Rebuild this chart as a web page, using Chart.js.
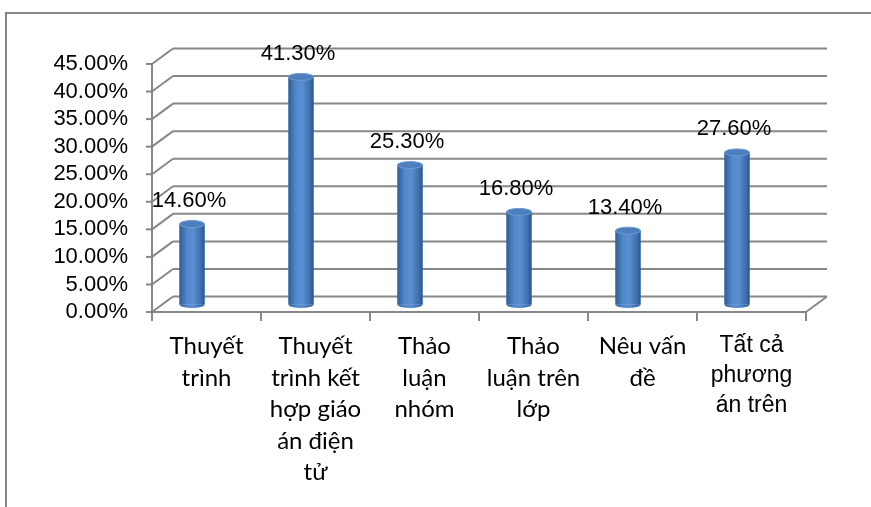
<!DOCTYPE html>
<html>
<head>
<meta charset="utf-8">
<script src="https://cdn.jsdelivr.net/npm/chart.js@4"></script>
<style>
  body { margin: 0; background: #fff; }
</style>
</head>
<body>
<canvas id="methodChart" width="871" height="507"></canvas>
<script>
// categories (already split into lines like the original)
const categories = [
    ['Thuyết', 'trình'],
    ['Thuyết', 'trình kết', 'hợp giáo', 'án điện', 'tử'],
    ['Thảo', 'luận', 'nhóm'],
    ['Thảo', 'luận trên', 'lớp'],
    ['Nêu vấn', 'đề'],
    ['Tất cả', 'phương', 'án trên']
];
const values = [14.6, 41.3, 25.3, 16.8, 13.4, 27.6];
const yMin = 0;
const yMax = 45;
const yStep = 5;

const lineColor = '#878787';
const depth = { dx: 21, dy: -15.5 };    // back wall offset
const barShift = { dx: -14.5, dy: -7.5 }; // where the columns stand
const capRy = 3.5;

function line(ctx, x1, y1, x2, y2) {
    ctx.beginPath();
    ctx.moveTo(x1, y1);
    ctx.lineTo(x2, y2);
    ctx.stroke();
}

const frame3d = {
    id: 'frame3d',
    beforeDatasetsDraw(chart) {
        const { ctx, chartArea: a, scales: { x, y } } = chart;
        ctx.save();
        ctx.strokeStyle = lineColor;
        ctx.lineWidth = 2;
        // outer chart border
        ctx.strokeRect(6, 13, 1000, 1000);

        y.ticks.forEach(t => {
            const py = y.getPixelForValue(t.value);
            line(ctx, a.left, py, a.left + depth.dx, py + depth.dy);
            line(ctx, a.left + depth.dx, py + depth.dy, a.right + depth.dx, py + depth.dy);
            line(ctx, a.left - 6, py, a.left, py);
        });
        line(ctx, a.left, a.top, a.left, a.bottom);
        line(ctx, a.left, a.bottom, a.right, a.bottom);
        line(ctx, a.right, a.bottom, a.right + depth.dx, a.bottom + depth.dy);

        const step = x.getPixelForValue(1) - x.getPixelForValue(0);
        for (let i = 0; i <= categories.length; i++) {
            const px = x.getPixelForValue(0) - step / 2 + i * step;
            line(ctx, px, a.bottom, px, a.bottom + 9);
        }
        ctx.restore();

        ctx.save();
        ctx.translate(barShift.dx, barShift.dy);
    },
    afterDatasetsDraw(chart) {
        const { ctx } = chart;
        const meta = chart.getDatasetMeta(0);
        meta.data.forEach((bar, i) => {
            const { x: bx, y: by, base, width: w } = bar.getProps(['x', 'y', 'base', 'width'], true);
            const grad = ctx.createLinearGradient(bx - w / 2, 0, bx + w / 2, 0);
            grad.addColorStop(0, '#2f5d96');
            grad.addColorStop(0.3, '#5289cb');
            grad.addColorStop(0.55, '#5a8fd1');
            grad.addColorStop(0.85, '#3e6fae');
            grad.addColorStop(1, '#2a558c');
            ctx.fillStyle = grad;
            ctx.fillRect(bx - w / 2, by, w, base - by);
            ctx.beginPath();
            ctx.ellipse(bx, base, w / 2, capRy, 0, 0, Math.PI);
            ctx.fill();

            ctx.beginPath();
            ctx.ellipse(bx, by, w / 2, capRy, 0, 0, Math.PI * 2);
            ctx.fillStyle = '#4e7fbd';
            ctx.fill();
            ctx.strokeStyle = '#6d9ad3';
            ctx.lineWidth = 1;
            ctx.stroke();

            ctx.fillStyle = '#000';
            ctx.font = '22px "Liberation Sans"';
            ctx.textAlign = 'center';
            ctx.textBaseline = 'middle';
            ctx.fillText(values[i].toFixed(2) + '%', bx - 3, by - 23);
        });
        ctx.restore();
    }
};

new Chart(document.getElementById('methodChart'), {
    type: 'bar',
    data: {
        labels: categories,
        datasets: [{
            label: 'Tỉ lệ',
            data: values,
            backgroundColor: '#4F81BD',
            barPercentage: 0.23,
            categoryPercentage: 1,
            clip: false
        }]
    },
    options: {
        responsive: false,
        animation: false,
        layout: { padding: { top: 64, right: 65, left: 0, bottom: 0 } },
        plugins: {
            legend: { display: false },
            tooltip: { enabled: false }
        },
        scales: {
            x: {
                offset: true,
                grid: { display: false, drawTicks: false },
                border: { display: false },
                afterFit: s => { s.height = 195; },
                ticks: {
                    padding: 19,
                    maxRotation: 0,
                    autoSkip: false,
                    color: '#000',
                    font: ctx => ctx.index === 5
                        ? { family: '"Liberation Sans"', size: 23, lineHeight: 30 / 23 }
                        : { family: 'Lato', size: 24, lineHeight: 31.5 / 24 }
                }
            },
            y: {
                min: yMin,
                max: yMax,
                grid: { display: false, drawTicks: false },
                border: { display: false },
                afterFit: s => { s.width = 152; },
                ticks: {
                    stepSize: yStep,
                    autoSkip: false,
                    padding: 24,
                    color: '#000',
                    font: { family: '"Liberation Sans"', size: 22, lineHeight: 1 },
                    callback: v => v.toFixed(2) + '%'
                }
            }
        }
    },
    plugins: [frame3d]
});
</script>
</body>
</html>
